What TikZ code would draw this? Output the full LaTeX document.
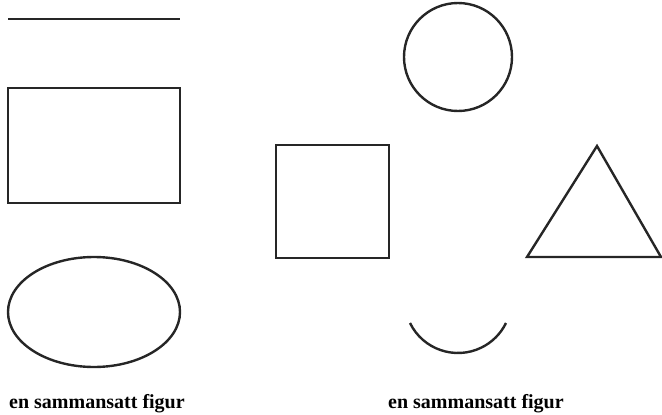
\documentclass[tikz,border=0pt]{standalone}
\usepackage{fontspec}
\setmainfont{Liberation Serif}
\begin{document}
\begin{tikzpicture}[x=1pt,y=-1pt,
  figline/.style={draw=black!85,line width=2.4pt},
  caption/.style={anchor=base west,inner sep=0pt,font=\fontsize{20}{20}\selectfont\bfseries}]
\useasboundingbox (0,0) rectangle (662,415);
\coordinate (l1) at (8,19);
\coordinate (l2) at (180,19);
\draw[figline] (l1) -- (l2);
\draw[figline] (8,88) rectangle (180,203);
\draw[figline] (94,312) ellipse [x radius=86,y radius=55];
\node[caption] (t1) at (9,408) {en sammansatt figur};
\draw[figline] (458,57) circle [radius=54];
\draw[figline] (276,145) rectangle (389,258);
\draw[figline] (597,146) -- (661,257) -- (527,257) -- cycle;
\draw[figline] (410,323) arc[start angle=154,end angle=26,radius=53.4];
\node[caption] (t2) at (388,408) {en sammansatt figur};
\end{tikzpicture}
\end{document}
